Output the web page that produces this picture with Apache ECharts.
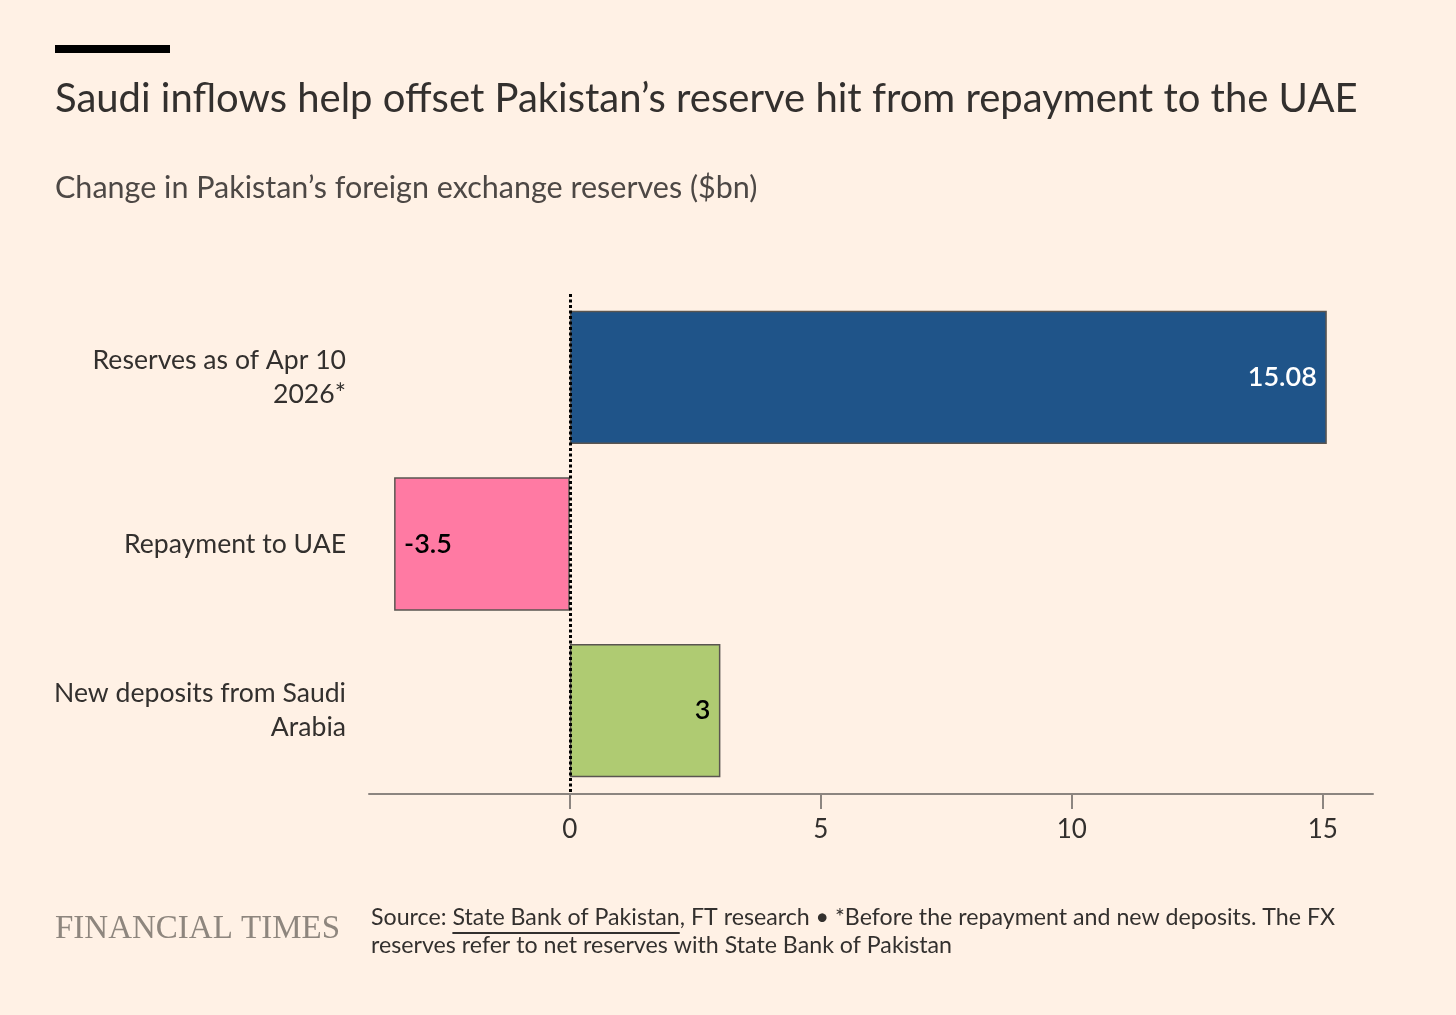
<!DOCTYPE html>
<html>
<head>
<meta charset="utf-8">
<script src="https://cdn.jsdelivr.net/npm/echarts@6/dist/echarts.min.js"></script>
<style>
  html, body { margin: 0; padding: 0; background: #FFF1E5; }
  #chart { width: 1456px; height: 1015px; }
</style>
</head>
<body>
<div id="chart"></div>
<script>
// chart data
var categories = ['Reserves as of Apr 10\n2026*', 'Repayment to UAE', 'New deposits from Saudi\nArabia'];
var values = [15.08, -3.5, 3];
var barColors = ['#1F5489', '#FF7AA3', '#AFCB72'];
var labelColors = ['#FFFFFF', '#000000', '#000000'];
var tickValues = [0, 5, 10, 15];

var FONT = 'Lato, "Noto Sans", sans-serif';
var TEXT = '#33302E';

var sourcePre = 'Source: ';
var sourceLink = 'State Bank of Pakistan';
var sourceRest = ', FT research \u2022 *Before the repayment and new deposits. The FX\nreserves refer to net reserves with State Bank of Pakistan';
var sourceFont = '23.2px ' + FONT;

// measure text to place the underline under the linked source
var ctx = document.createElement('canvas').getContext('2d');
ctx.font = sourceFont;
var preW = ctx.measureText(sourcePre).width;
var linkW = ctx.measureText(sourceLink).width;

var chart = echarts.init(document.getElementById('chart'));

var option = {
    backgroundColor: '#FFF1E5',
    animation: false,
    grid: {
        left: 369,
        right: 83,
        top: 294,
        bottom: 221,
        containLabel: false
    },
    xAxis: {
        type: 'value',
        min: -4,
        max: 16,
        axisLine: { show: true, lineStyle: { color: '#8C8580', width: 2 } },
        axisTick: {
            show: true,
            customValues: tickValues,
            length: 15,
            lineStyle: { color: '#8C8580', width: 2 }
        },
        axisLabel: {
            customValues: tickValues,
            color: TEXT,
            fontFamily: FONT,
            fontSize: 26,
            margin: 23
        },
        splitLine: { show: false }
    },
    yAxis: {
        type: 'category',
        inverse: true,
        data: categories,
        axisLine: { show: false },
        axisTick: { show: false },
        axisLabel: {
            color: TEXT,
            fontFamily: FONT,
            fontSize: 26.6,
            lineHeight: 34,
            align: 'right',
            margin: 23
        }
    },
    series: [
        {
            type: 'bar',
            barCategoryGap: '20%',
            data: values.map(function (v, i) {
                return {
                    value: v,
                    itemStyle: { color: barColors[i] },
                    label: { color: labelColors[i], position: v < 0 ? 'insideLeft' : 'insideRight' }
                };
            }),
            itemStyle: { borderColor: '#5A5550', borderWidth: 1.5 },
            label: {
                show: true,
                distance: 10,
                fontFamily: FONT,
                fontSize: 27,
                fontWeight: 600,
                formatter: function (p) { return p.value; }
            },
            markLine: {
                silent: true,
                symbol: 'none',
                label: { show: false },
                lineStyle: { color: '#000', type: [3, 2.5], width: 3 },
                data: [{ xAxis: 0 }]
            }
        }
    ],
    graphic: [
        { type: 'rect', left: 55, top: 45, shape: { width: 115, height: 8 }, style: { fill: '#000' } },
        {
            type: 'text', left: 55, top: 79,
            style: { text: 'Saudi inflows help offset Pakistan\u2019s reserve hit from repayment to the UAE', font: '40px ' + FONT, fill: TEXT }
        },
        {
            type: 'text', left: 55, top: 173,
            style: { text: 'Change in Pakistan\u2019s foreign exchange reserves ($bn)', font: '30.5px ' + FONT, fill: '#4D4845' }
        },
        {
            type: 'text', left: 55, top: 913,
            style: { text: 'FINANCIAL TIMES', font: '33px "Liberation Serif", "DejaVu Serif", serif', fill: '#8E867E' }
        },
        {
            type: 'text', left: 371, top: 904,
            style: {
                text: sourcePre + sourceLink + sourceRest,
                font: sourceFont, fill: TEXT, lineHeight: 28
            }
        },
        { type: 'rect', left: 371 + preW, top: 932, shape: { width: linkW, height: 2 }, style: { fill: TEXT } }
    ]
};

chart.setOption(option);
</script>
</body>
</html>
